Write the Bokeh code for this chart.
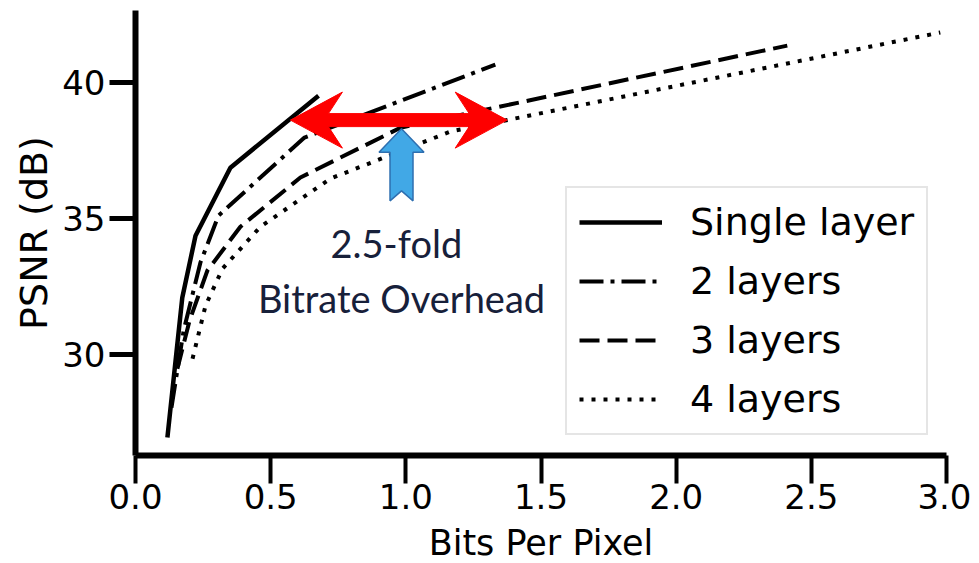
from bokeh.plotting import figure
from bokeh.models import Range1d, FixedTicker, PrintfTickFormatter, Legend, LegendItem
from bokeh.core.properties import value
from bokeh.embed import file_html
from bokeh.resources import INLINE

# ---------------- data ----------------
single_bpp = [0.118, 0.173, 0.222, 0.351, 0.677]
single_psnr = [26.94, 32.08, 34.36, 36.86, 39.51]

two_bpp = [0.133, 0.178, 0.240, 0.307, 0.625, 1.331]
two_psnr = [28.04, 30.87, 33.37, 35.10, 37.97, 40.65]

three_bpp = [0.155, 0.200, 0.266, 0.388, 0.610, 0.980, 2.411]
three_psnr = [29.47, 31.24, 33.08, 34.69, 36.50, 38.33, 41.35]

four_bpp = [0.211, 0.259, 0.322, 0.462, 0.721, 1.165, 2.977]
four_psnr = [29.84, 31.79, 33.15, 34.69, 36.46, 38.19, 41.83]

series_labels = ["Single layer", "2 layers", "3 layers", "4 layers"]
x_ticks = [0.0, 0.5, 1.0, 1.5, 2.0, 2.5, 3.0]
y_ticks = [30, 35, 40]

# annotation anchors (data units)
overhead_x_start = 0.573
overhead_x_end = 1.375
overhead_y = 38.61
pointer_x = 0.984
pointer_y = 38.29
note_lines = ["2.5-fold", "Bitrate Overhead"]
note_x = [0.965, 0.984]
note_y = [34.11, 32.08]

# ---------------- figure ----------------
X0, X1 = 0.0, 3.0
Y0, Y1 = 26.28, 42.64
FW, FH = 811, 445
kx = FW / (X1 - X0)
ky = FH / (Y1 - Y0)

p = figure(frame_width=FW, frame_height=FH,
           min_border_left=135, min_border_right=25,
           min_border_top=10, min_border_bottom=106,
           x_range=Range1d(X0, X1), y_range=Range1d(Y0, Y1),
           output_backend="svg", toolbar_location=None)
p.outline_line_color = None
p.xgrid.visible = False
p.ygrid.visible = False
p.background_fill_color = "white"
p.border_fill_color = "white"

for ax in (p.xaxis[0], p.yaxis[0]):
    ax.axis_line_width = 6
    ax.axis_line_color = "black"
    ax.major_tick_in = 0
    ax.minor_tick_in = 0
    ax.minor_tick_out = 0
    ax.major_tick_line_color = "black"
    ax.major_label_text_font = "DejaVu Sans"
    ax.major_label_text_font_size = "34px"
    ax.major_label_text_color = "black"
    ax.axis_label_text_font = "DejaVu Sans"
    ax.axis_label_text_font_style = "normal"
    ax.axis_label_text_color = "black"

p.xaxis.ticker = FixedTicker(ticks=x_ticks)
p.xaxis.formatter = PrintfTickFormatter(format="%.1f")
p.xaxis.major_tick_out = 28
p.xaxis.major_tick_line_width = 4
p.xaxis.major_label_standoff = 0
p.xaxis.axis_label = "Bits Per Pixel"
p.xaxis.axis_label_text_font_size = "35px"
p.xaxis.axis_label_standoff = 11

p.yaxis.ticker = FixedTicker(ticks=y_ticks)
p.yaxis.major_tick_out = 26
p.yaxis.major_tick_line_width = 5
p.yaxis.major_label_standoff = 4
p.yaxis.axis_label = "PSNR (dB)"
p.yaxis.axis_label_text_font_size = "38px"
p.yaxis.axis_label_standoff = 3

# ---------------- curves ----------------
r1 = p.line(single_bpp, single_psnr, line_color="black", line_width=4.5)
r2 = p.line(two_bpp, two_psnr, line_color="black", line_width=4, line_dash="24 7 4 7")
r3 = p.line(three_bpp, three_psnr, line_color="black", line_width=4, line_dash="20 8")
r4 = p.line(four_bpp, four_psnr, line_color="black", line_width=4, line_dash="4 8")

# ---------------- arrows (shape in px, placed at data anchors) ----------------
L = (overhead_x_end - overhead_x_start) * kx
red_dx = [0, 52, 38, L - 38, L - 52, L, L - 52, L - 38, 38, 52]
red_dy = [0, 28, 6.5, 6.5, 28, 0, -28, -6.5, -6.5, -28]
p.patch([overhead_x_start + d / kx for d in red_dx],
        [overhead_y + d / ky for d in red_dy],
        fill_color="#fe0000", line_color="#fe0000", line_width=1)

blue_dx = [0, 22.5, 11.5, 11.5, 0, -11.5, -11.5, -22.5]
blue_dy = [0, -23.5, -23.5, -72, -62, -72, -23.5, -23.5]
p.patch([pointer_x + d / kx for d in blue_dx],
        [pointer_y + d / ky for d in blue_dy],
        fill_color="#41a8e6", line_color="#2e6fb0", line_width=1.5)

p.text(x=note_x, y=note_y, text=note_lines, text_font=value("Lato"),
       text_font_size="38px", text_align="center", text_baseline="alphabetic",
       text_color="#17203a")

# ---------------- legend ----------------
legend = Legend(items=[LegendItem(label=series_labels[0], renderers=[r1]),
                       LegendItem(label=series_labels[1], renderers=[r2]),
                       LegendItem(label=series_labels[2], renderers=[r3]),
                       LegendItem(label=series_labels[3], renderers=[r4])],
                location=(430, 20),
                label_text_font="DejaVu Sans", label_text_font_size="38px",
                label_text_color="black",
                glyph_width=83, glyph_height=44, label_height=44,
                label_standoff=28, spacing=15, padding=12, margin=0,
                border_line_color="#cccccc", border_line_width=2,
                background_fill_color="white", background_fill_alpha=0.8)
p.add_layout(legend)

open("out.html", "w").write(file_html(p, INLINE))
